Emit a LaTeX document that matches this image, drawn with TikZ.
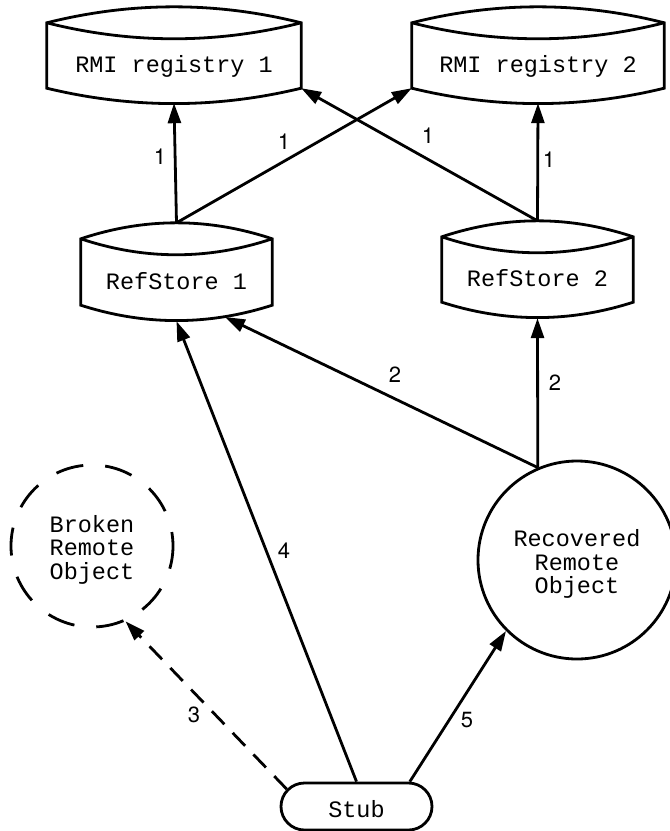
\documentclass[tikz,border=0pt]{standalone}
\usepackage{fontspec}
\setmainfont{TeX Gyre Heros}
\newfontfamily\monof{Liberation Mono}
\newfontfamily\labf{TeX Gyre Heros}
\usetikzlibrary{arrows.meta,shapes.misc,calc}
\newcommand\drawstore[1]{%
  \draw[outline] (#1.north west)
    .. controls ($(#1.north west)!1/3!(#1.north east)+(0,-21.3)$) and ($(#1.north west)!2/3!(#1.north east)+(0,-21.3)$) .. (#1.north east)
    -- (#1.south east)
    .. controls ($(#1.south east)!1/3!(#1.south west)+(0,20.5)$) and ($(#1.south east)!2/3!(#1.south west)+(0,20.5)$) .. (#1.south west)
    -- cycle;
  \draw[outline] (#1.north west)
    .. controls ($(#1.north west)!1/3!(#1.north east)+(0,21.3)$) and ($(#1.north west)!2/3!(#1.north east)+(0,21.3)$) .. (#1.north east);
}
\begin{document}
\begin{tikzpicture}[x=1pt,y=-1pt,
  outline/.style={line width=2.8pt},
  store/.style={minimum width=#1, minimum height=65pt, inner sep=0pt,
    text height=39.5pt, text depth=5pt,
    font={\monof\fontsize{23.5pt}{23.5pt}\selectfont}},
  objnode/.style={circle, draw, outline, minimum size=#1, inner sep=0pt, align=center,
    font={\monof\fontsize{23.5pt}{23.5pt}\selectfont}},
  stubnode/.style={rounded rectangle, draw, outline, minimum width=151pt, minimum height=47pt,
    inner sep=0pt, text height=26pt, text depth=5pt,
    font={\monof\fontsize{23.5pt}{23.5pt}\selectfont}},
  conn/.style={line width=2.8pt, -{Triangle[length=20pt,width=13pt]}},
  dashconn/.style={conn, dash pattern=on 18pt off 12pt},
  lbl/.style={inner sep=0pt, font={\labf\fontsize{22pt}{22pt}\selectfont}}
]
\useasboundingbox (0,0) rectangle (670,831);

% stores
\node[store=254pt] (r1) at (174,55.5) {RMI registry 1};
\node[store=252pt] (r2) at (538,55.5) {RMI registry 2};
\node[store=191pt, minimum height=66pt] (s1) at (176.5,272) {RefStore 1};
\node[store=191pt] (s2) at (537.5,269.5) {RefStore 2};
\drawstore{r1}
\drawstore{r2}
\drawstore{s1}
\drawstore{s2}

% objects
\node[objnode=162pt, dash pattern=on 28pt off 22pt, dash phase=14pt] (brk) at (92,546)
  {\rule{0pt}{24pt}Broken\\Remote\\Object};
\node[objnode=198pt] (rec) at (577,560)
  {\rule{0pt}{25pt}Recovered\\Remote\\Object};
\node[stubnode] (stub) at (356.5,806.5) {Stub};

% attachment points
\coordinate (r1b) at ($(r1.south)+(0,15)$);
\coordinate (r1se) at (r1.south east);
\coordinate (r2sw) at (r2.south west);
\coordinate (r2b) at ($(r2.south)+(0,15)$);
\coordinate (s1t) at ($(s1.north)+(0,-16)$);
\coordinate (s1b) at ($(s1.south)+(0,16)$);
\coordinate (s1br) at (225,317);
\coordinate (s2t) at ($(s2.north)+(0,-16)$);
\coordinate (s2b) at ($(s2.south)+(0,16)$);

% connectors
\draw[conn] (s1t) -- (r1b);
\draw[conn] (s1t) -- (r2sw);
\draw[conn] (s2t) -- (r1se);
\draw[conn] (s2t) -- (r2b);
\draw[conn] (rec.113) -- (s2b);
\draw[conn] (rec.113) -- (s1br);
\draw[conn] (stub.north) -- (s1b);
\draw[dashconn] (stub.166) -- (brk.-66.5);
\draw[conn] (stub.25) -- (rec.-135);

% labels
\node[lbl] (l1) at (160,157) {1};
\node[lbl] (l2) at (284,142) {1};
\node[lbl] (l3) at (428,136) {1};
\node[lbl] (l4) at (549,160) {1};
\node[lbl] (l5) at (555,383) {2};
\node[lbl] (l6) at (395,375) {2};
\node[lbl] (l7) at (284,551) {4};
\node[lbl] (l8) at (194,715) {3};
\node[lbl] (l9) at (467,720) {5};
\end{tikzpicture}
\end{document}
